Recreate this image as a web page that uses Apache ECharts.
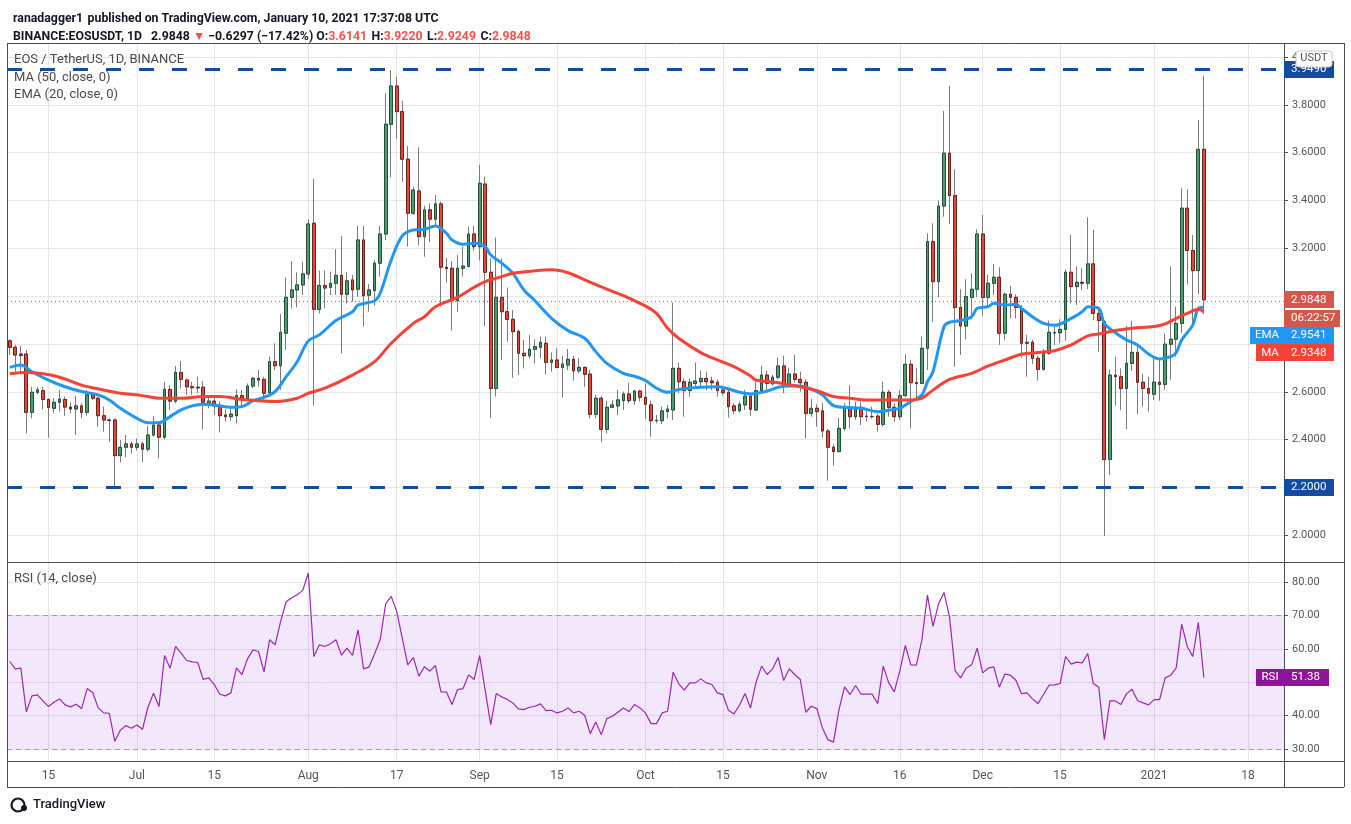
<!DOCTYPE html>
<html><head><meta charset="utf-8">
<script src="https://cdn.jsdelivr.net/npm/echarts@6/dist/echarts.min.js"></script>
<style>html,body{margin:0;padding:0;background:#fff;overflow:hidden}#main{width:1351px;height:824px}</style>
</head><body><div id="main"></div>
<script>
// ---------- data ----------
const startDate = [2020, 5, 8];   // 2020-06-08 (first daily candle)
const totalDays = 231;            // category slots (data + blank right margin)
const opens = [
2.813,2.786,2.758,2.758,2.514,2.598,2.605,2.568,2.531,2.556,
2.568,2.536,2.528,2.541,2.514,2.587,2.573,2.500,2.482,2.482,
2.333,2.368,2.382,2.368,2.382,2.360,2.419,2.461,2.410,2.610,
2.561,2.681,2.649,2.621,2.619,2.619,2.552,2.561,2.541,2.503,
2.496,2.500,2.584,2.573,2.624,2.656,2.652,2.596,2.726,2.709,
2.845,2.995,3.026,3.047,3.093,3.305,2.945,3.045,3.037,3.054,
3.087,3.008,3.068,3.029,3.235,3.004,3.023,3.138,3.260,3.719,
3.879,3.772,3.573,3.347,3.440,3.249,3.361,3.322,3.386,3.121,
3.117,2.981,3.117,3.124,3.260,3.207,3.469,3.100,2.614,2.995,
2.935,2.903,2.852,2.761,2.751,2.778,2.786,2.803,2.723,2.733,
2.702,2.712,2.736,2.688,2.702,2.674,2.506,2.573,2.443,2.535,
2.541,2.563,2.591,2.563,2.603,2.577,2.545,2.479,2.479,2.517,
2.524,2.698,2.642,2.605,2.635,2.642,2.656,2.645,2.640,2.607,
2.598,2.541,2.521,2.545,2.582,2.524,2.605,2.670,2.633,2.661,
2.708,2.633,2.674,2.652,2.640,2.510,2.531,2.520,2.436,2.368,
2.350,2.447,2.535,2.496,2.535,2.498,2.496,2.498,2.464,2.598,
2.535,2.496,2.584,2.715,2.638,2.635,2.782,3.228,3.061,3.377,
3.598,3.421,2.953,2.875,2.995,3.029,3.260,2.995,3.054,3.079,
2.845,3.008,2.995,2.949,2.803,2.807,2.740,2.694,2.761,2.847,
2.847,2.861,3.100,3.040,3.058,3.054,3.135,2.928,2.893,2.317,
2.670,2.663,2.614,2.719,2.765,2.640,2.614,2.590,2.640,2.631,
2.799,2.820,2.886,3.368,3.191,3.107,3.6141];
const highs = [
2.820,2.796,2.792,2.775,2.621,2.620,2.620,2.572,2.573,2.608,
2.580,2.556,2.583,2.552,2.608,2.598,2.580,2.538,2.489,2.489,
2.398,2.419,2.391,2.405,2.391,2.457,2.499,2.475,2.642,2.628,
2.708,2.729,2.656,2.642,2.663,2.645,2.580,2.573,2.559,2.527,
2.531,2.610,2.608,2.635,2.663,2.691,2.663,2.747,2.803,2.926,
3.079,3.147,3.100,3.144,3.322,3.490,3.107,3.107,3.103,3.197,
3.252,3.100,3.089,3.294,3.294,3.051,3.151,3.294,3.849,3.946,
3.918,3.817,3.628,3.458,3.623,3.378,3.388,3.423,3.396,3.161,
3.147,3.172,3.207,3.291,3.294,3.549,3.500,3.158,3.245,3.158,
3.036,2.942,2.861,2.817,2.838,2.820,2.831,2.831,2.765,2.782,
2.750,2.779,2.750,2.740,2.705,2.691,2.587,2.582,2.563,2.566,
2.608,2.601,2.638,2.608,2.608,2.635,2.563,2.503,2.538,2.545,
2.973,2.722,2.656,2.656,2.722,2.688,2.684,2.663,2.652,2.621,
2.615,2.552,2.559,2.608,2.589,2.649,2.708,2.688,2.670,2.744,
2.751,2.701,2.754,2.684,2.652,2.570,2.548,2.555,2.444,2.380,
2.492,2.552,2.628,2.559,2.559,2.531,2.538,2.507,2.642,2.608,
2.552,2.608,2.757,2.733,2.700,2.831,3.263,3.305,3.400,3.775,
3.879,3.531,3.029,3.071,3.096,3.280,3.340,3.089,3.135,3.121,
3.015,3.043,3.008,2.963,2.838,2.817,2.750,2.779,2.898,2.873,
2.903,3.112,3.256,3.124,3.117,3.330,3.277,2.956,2.900,2.694,
2.747,2.698,2.875,2.898,2.796,2.675,2.663,2.747,2.737,2.845,
3.124,2.956,3.451,3.447,3.256,3.737,3.9220];
const lows = [
2.754,2.684,2.684,2.426,2.489,2.590,2.527,2.408,2.510,2.517,
2.499,2.510,2.419,2.489,2.500,2.566,2.454,2.433,2.391,2.200,
2.305,2.326,2.343,2.354,2.305,2.350,2.412,2.322,2.401,2.524,
2.552,2.614,2.587,2.587,2.594,2.443,2.531,2.503,2.430,2.475,
2.479,2.468,2.538,2.570,2.615,2.621,2.566,2.587,2.691,2.608,
2.775,2.949,2.953,3.005,3.072,2.542,2.928,2.949,3.005,3.005,
2.761,2.970,2.977,2.998,2.873,2.935,2.960,3.082,3.235,3.497,
3.658,3.479,3.207,3.340,3.214,3.165,3.226,3.290,2.956,3.057,
2.856,2.935,3.082,3.124,3.190,3.149,2.875,2.492,2.580,2.733,
2.810,2.659,2.670,2.698,2.740,2.719,2.740,2.673,2.684,2.698,
2.577,2.691,2.647,2.677,2.621,2.489,2.489,2.391,2.426,2.531,
2.503,2.524,2.552,2.545,2.559,2.486,2.412,2.468,2.465,2.489,
2.482,2.594,2.496,2.580,2.624,2.615,2.605,2.608,2.580,2.584,
2.492,2.506,2.514,2.524,2.500,2.520,2.603,2.607,2.626,2.652,
2.594,2.621,2.638,2.601,2.405,2.496,2.454,2.408,2.228,2.291,
2.347,2.436,2.447,2.482,2.461,2.475,2.488,2.433,2.454,2.496,
2.475,2.482,2.580,2.447,2.573,2.632,2.691,2.893,2.995,3.332,
3.301,2.705,2.754,2.820,2.903,2.995,2.918,2.956,3.005,2.796,
2.817,2.907,2.907,2.744,2.663,2.716,2.647,2.688,2.754,2.796,
2.803,2.814,2.970,2.963,3.026,3.029,2.900,2.768,1.997,2.252,
2.542,2.524,2.444,2.687,2.506,2.538,2.517,2.566,2.563,2.608,
2.650,2.747,2.847,3.049,2.873,3.008,2.9249];
const closes = [
2.786,2.754,2.752,2.514,2.598,2.608,2.568,2.535,2.556,2.570,
2.536,2.528,2.541,2.514,2.587,2.573,2.500,2.482,2.480,2.333,
2.368,2.382,2.368,2.382,2.360,2.419,2.461,2.410,2.610,2.561,
2.681,2.652,2.621,2.617,2.616,2.556,2.561,2.541,2.500,2.496,
2.507,2.584,2.573,2.624,2.656,2.649,2.594,2.726,2.709,2.849,
2.995,3.026,3.047,3.093,3.302,2.945,3.045,3.034,3.054,3.087,
3.008,3.064,3.026,3.235,3.002,3.026,3.138,3.260,3.719,3.879,
3.772,3.573,3.347,3.444,3.249,3.361,3.322,3.386,3.121,3.115,
2.981,3.117,3.126,3.260,3.207,3.472,3.100,2.614,2.995,2.935,
2.903,2.852,2.761,2.751,2.778,2.789,2.807,2.723,2.733,2.702,
2.716,2.736,2.688,2.702,2.673,2.506,2.573,2.443,2.535,2.545,
2.566,2.591,2.563,2.603,2.577,2.548,2.479,2.481,2.520,2.528,
2.698,2.642,2.605,2.640,2.645,2.656,2.642,2.638,2.605,2.596,
2.538,2.521,2.548,2.582,2.527,2.605,2.670,2.635,2.661,2.708,
2.633,2.674,2.652,2.638,2.510,2.531,2.517,2.436,2.368,2.350,
2.447,2.535,2.496,2.535,2.496,2.496,2.497,2.464,2.598,2.535,
2.496,2.584,2.715,2.638,2.635,2.782,3.228,3.061,3.377,3.598,
3.421,2.953,2.875,2.998,3.029,3.260,2.995,3.054,3.079,2.845,
3.008,2.995,2.953,2.803,2.807,2.740,2.694,2.761,2.849,2.846,
2.861,3.100,3.040,3.058,3.054,3.135,2.928,2.898,2.317,2.670,
2.663,2.614,2.719,2.765,2.640,2.614,2.594,2.640,2.631,2.799,
2.820,2.886,3.368,3.191,3.107,3.6141,2.9848];
const rsiValues = [
56.2,54.0,54.2,41.1,45.9,46.2,44.4,42.7,44.0,45.0,
43.2,42.6,43.4,42.1,48.1,46.9,42.3,40.8,40.7,32.3,
35.6,37.0,36.2,37.2,35.9,42.5,46.7,42.7,58.0,54.2,
60.7,58.7,56.5,56.1,55.9,50.8,51.3,49.3,46.4,45.9,
46.8,54.3,52.3,57.0,59.7,59.2,53.1,62.7,61.2,68.2,
74.1,75.3,76.2,77.5,82.7,57.7,61.2,60.7,61.5,62.7,
58.1,60.2,58.0,65.7,54.0,54.6,58.5,62.7,73.5,75.7,
71.2,63.2,55.2,57.4,51.8,54.6,53.3,55.0,47.1,47.0,
43.3,47.8,48.1,52.2,50.8,58.0,47.6,37.3,46.6,45.6,
44.8,43.8,42.0,41.8,42.5,42.8,43.5,41.5,41.6,40.8,
41.3,42.3,40.8,41.3,40.1,34.6,38.1,34.3,39.1,39.8,
41.0,42.3,41.2,43.3,42.3,40.8,37.6,37.6,40.8,41.3,
53.0,49.6,47.6,49.8,49.8,51.0,49.8,49.3,46.8,46.3,
41.6,40.5,43.1,46.6,42.3,50.0,54.8,52.3,54.0,57.4,
50.5,54.0,52.3,50.8,41.0,42.8,42.1,36.3,32.8,32.0,
41.8,48.6,46.3,49.0,46.4,46.4,46.4,43.6,54.8,49.8,
47.1,53.3,61.0,55.2,55.1,62.7,76.1,66.7,73.4,76.9,
69.5,53.5,51.3,54.2,55.2,60.2,52.8,54.2,54.6,48.5,
52.4,52.1,50.6,46.6,46.8,45.0,43.6,46.3,49.1,49.2,
49.6,57.7,55.4,56.0,55.8,58.6,49.6,48.5,32.8,44.4,
44.4,43.3,46.5,47.9,44.5,43.8,43.2,44.8,44.8,51.3,
52.1,54.3,67.4,60.7,57.7,67.9,51.38];
const emaPoints = [
['2020-06-08',2.702],['2020-06-10',2.712],['2020-06-12',2.684],['2020-06-15',2.649],['2020-06-18',2.621],
['2020-06-21',2.601],['2020-06-24',2.587],['2020-06-26',2.566],['2020-06-28',2.531],['2020-07-01',2.489],
['2020-07-03',2.471],['2020-07-05',2.471],['2020-07-07',2.496],['2020-07-09',2.524],['2020-07-11',2.541],
['2020-07-13',2.548],['2020-07-15',2.545],['2020-07-18',2.535],['2020-07-20',2.538],['2020-07-22',2.563],
['2020-07-24',2.577],['2020-07-26',2.601],['2020-07-28',2.663],['2020-07-30',2.726],['2020-08-01',2.813],
['2020-08-03',2.838],['2020-08-06',2.898],['2020-08-09',2.935],['2020-08-10',2.963],['2020-08-13',2.981],
['2020-08-14',3.012],['2020-08-16',3.151],['2020-08-18',3.252],['2020-08-20',3.277],['2020-08-22',3.280],
['2020-08-24',3.294],['2020-08-26',3.263],['2020-08-27',3.235],['2020-08-29',3.217],['2020-08-31',3.221],
['2020-09-02',3.207],['2020-09-03',3.172],['2020-09-05',3.138],['2020-09-07',3.096],['2020-09-09',3.026],
['2020-09-11',2.981],['2020-09-14',2.907],['2020-09-17',2.856],['2020-09-20',2.824],['2020-09-22',2.768],
['2020-09-24',2.719],['2020-09-27',2.677],['2020-09-29',2.665],['2020-10-01',2.647],['2020-10-03',2.615],
['2020-10-05',2.598],['2020-10-07',2.610],['2020-10-11',2.619],['2020-10-14',2.621],['2020-10-18',2.598],
['2020-10-20',2.591],['2020-10-23',2.603],['2020-10-25',2.619],['2020-10-27',2.624],['2020-10-29',2.624],
['2020-10-31',2.610],['2020-11-02',2.587],['2020-11-04',2.542],['2020-11-06',2.535],['2020-11-09',2.531],
['2020-11-12',2.517],['2020-11-15',2.527],['2020-11-16',2.531],['2020-11-18',2.559],['2020-11-20',2.587],
['2020-11-21',2.642],['2020-11-22',2.684],['2020-11-24',2.873],['2020-11-25',2.891],['2020-11-27',2.898],
['2020-11-29',2.914],['2020-11-30',2.949],['2020-12-02',2.956],['2020-12-03',2.970],['2020-12-05',2.963],
['2020-12-07',2.966],['2020-12-08',2.949],['2020-12-10',2.914],['2020-12-12',2.886],['2020-12-14',2.878],
['2020-12-17',2.907],['2020-12-19',2.935],['2020-12-20',2.956],['2020-12-22',2.949],['2020-12-23',2.886],
['2020-12-25',2.847],['2020-12-27',2.817],['2020-12-29',2.796],['2020-12-31',2.758],['2021-01-02',2.737],
['2021-01-04',2.747],['2021-01-05',2.764],['2021-01-06',2.817],['2021-01-08',2.879],['2021-01-09',2.949],
['2021-01-10',2.9541]];
const maPoints = [
['2020-06-08',2.675],['2020-06-11',2.681],['2020-06-14',2.675],['2020-06-17',2.661],['2020-06-21',2.628],
['2020-06-25',2.607],['2020-06-28',2.594],['2020-07-02',2.584],['2020-07-05',2.573],['2020-07-09',2.573],
['2020-07-13',2.580],['2020-07-16',2.580],['2020-07-20',2.568],['2020-07-26',2.559],['2020-07-30',2.573],
['2020-08-01',2.594],['2020-08-04',2.615],['2020-08-09',2.670],['2020-08-13',2.726],['2020-08-16',2.803],
['2020-08-20',2.886],['2020-08-22',2.914],['2020-08-24',2.956],['2020-08-28',2.995],['2020-08-31',3.037],
['2020-09-02',3.061],['2020-09-05',3.082],['2020-09-07',3.096],['2020-09-11',3.106],['2020-09-14',3.110],
['2020-09-17',3.098],['2020-09-20',3.068],['2020-09-24',3.029],['2020-09-27',3.002],['2020-09-30',2.970],
['2020-10-01',2.959],['2020-10-03',2.928],['2020-10-05',2.866],['2020-10-07',2.824],['2020-10-11',2.764],
['2020-10-14',2.733],['2020-10-17',2.705],['2020-10-20',2.666],['2020-10-21',2.649],['2020-10-25',2.638],
['2020-10-29',2.621],['2020-11-01',2.605],['2020-11-04',2.580],['2020-11-07',2.573],['2020-11-10',2.566],
['2020-11-14',2.566],['2020-11-18',2.566],['2020-11-20',2.573],['2020-11-22',2.607],['2020-11-25',2.652],
['2020-11-29',2.677],['2020-12-02',2.708],['2020-12-05',2.733],['2020-12-08',2.757],['2020-12-11',2.764],
['2020-12-14',2.772],['2020-12-17',2.796],['2020-12-20',2.834],['2020-12-22',2.842],['2020-12-25',2.856],
['2020-12-28',2.866],['2021-01-01',2.873],['2021-01-03',2.884],['2021-01-05',2.907],['2021-01-07',2.928],
['2021-01-09',2.945],['2021-01-10',2.9348]];
const tickDates = ['2020-06-15','2020-07-01','2020-07-15','2020-08-01','2020-08-17','2020-09-01','2020-09-15',
  '2020-10-01','2020-10-15','2020-11-01','2020-11-16','2020-12-01','2020-12-15','2021-01-01','2021-01-18'];
const tickLabels = ['15','Jul','15','Aug','17','Sep','15','Oct','15','Nov','16','Dec','15','2021','18'];
const resistanceLevel = 3.949;
const supportLevel = 2.2;
const lastPrice = 2.9848;
const lastEma = 2.9541;
const lastMa = 2.9348;
const lastRsi = 51.38;
const countdownText = '06:22:57';

// ---------- build ----------
const FONT = "Roboto, 'Liberation Sans', sans-serif";
const dates = [];
const d0 = Date.UTC(startDate[0], startDate[1], startDate[2]);
for (let i = 0; i < totalDays; i++) dates.push(new Date(d0 + i * 86400000).toISOString().slice(0, 10));
const candleData = opens.map((o, i) => [o, closes[i], lows[i], highs[i]]);
const bodyData = opens.map((o, i) => [o, closes[i], Math.min(o, closes[i]), Math.max(o, closes[i])]);
const isTick = (idx, val) => tickDates.indexOf(val) >= 0;
const onStep = (v, s) => Math.abs(v / s - Math.round(v / s)) < 1e-6;

const UP = '#4c9e6e', DOWN = '#e2473b';
const HF = 12.3;
const chart = echarts.init(document.getElementById('main'));
const gridLine = {color: '#e6e6e6', width: 1};

chart.setOption({
  animation: false,
  backgroundColor: '#ffffff',
  textStyle: {fontFamily: FONT},
  title: [
    {left: 8, top: 5, text: '{b|ranadagger1} {n|published on TradingView.com, January 10, 2021 17:37:08 UTC}',
     textStyle: {rich: {b: {fontWeight: 'bold', fontSize: HF, color: '#131722', fontFamily: FONT},
                        n: {fontSize: HF, color: '#131722', fontFamily: FONT}}}},
    {left: 8, top: 23, text: '{b|BINANCE:EOSUSDT, 1D}  {n|2.9848 }{r|▼}{n| −0.6297 (−17.42%) }{b|O:}{r|3.6141} {b|H:}{r|3.9220} {b|L:}{r|2.9249} {b|C:}{r|2.9848}',
     textStyle: {rich: {b: {fontWeight: 'bold', fontSize: HF, color: '#131722', fontFamily: FONT},
                        n: {fontSize: HF, color: '#131722', fontFamily: FONT},
                        r: {fontSize: HF, color: '#ef5350', fontFamily: FONT}}}}
  ],
  grid: [
    {left: 7, right: 67, top: 43, height: 519},
    {left: 7, right: 67, top: 562, height: 199}
  ],
  xAxis: [
    {type: 'category', gridIndex: 0, data: dates, boundaryGap: true,
     axisLine: {show: false}, axisTick: {show: false}, axisLabel: {show: false},
     splitLine: {show: true, interval: isTick, alignWithLabel: true, lineStyle: gridLine}},
    {type: 'category', gridIndex: 1, data: dates, boundaryGap: true,
     axisLine: {show: false}, axisTick: {show: false},
     axisLabel: {show: true, interval: isTick, color: '#555', fontSize: 12, margin: 9,
                 formatter: v => tickLabels[tickDates.indexOf(v)] || ''},
     splitLine: {show: true, interval: isTick, alignWithLabel: true, lineStyle: gridLine}}
  ],
  yAxis: [
    {type: 'value', gridIndex: 0, position: 'right', min: 1.888, max: 4.059, splitNumber: 10,
     axisLine: {show: false}, axisTick: {show: true, length: 4, lineStyle: {color: '#555'}},
     axisLabel: {color: '#555', fontSize: 11, margin: 8, showMinLabel: false, showMaxLabel: false,
                 formatter: v => onStep(v, 0.2) ? v.toFixed(4) : ''},
     splitLine: {lineStyle: gridLine}},
    {type: 'value', gridIndex: 1, position: 'right', min: 26.4, max: 86, splitNumber: 6,
     axisLine: {show: false}, axisTick: {show: true, length: 4, lineStyle: {color: '#555'}},
     axisLabel: {color: '#555', fontSize: 11, margin: 8, showMinLabel: false, showMaxLabel: false,
                 formatter: v => onStep(v, 10) ? v.toFixed(2) : ''},
     splitLine: {lineStyle: gridLine}}
  ],
  series: [
    {type: 'candlestick', name: 'wicks', xAxisIndex: 0, yAxisIndex: 0, data: candleData, barWidth: 3.2, z: 2,
     itemStyle: {color: UP, color0: DOWN, borderColor: '#7b7b7b', borderColor0: '#7b7b7b', borderWidth: 1},
     markLine: {silent: true, symbol: ['none', 'none'], label: {show: false}, animation: false,
       data: [
         {yAxis: resistanceLevel, lineStyle: {color: '#134ba1', width: 3, type: [15, 18]}},
         {yAxis: supportLevel, lineStyle: {color: '#134ba1', width: 3, type: [15, 18]}},
         {yAxis: lastPrice, lineStyle: {color: '#e0574b', width: 1, type: [1, 3]}}
       ]}},
    {type: 'candlestick', name: 'bodies', xAxisIndex: 0, yAxisIndex: 0, data: bodyData, barWidth: 3.2, z: 3,
     itemStyle: {color: UP, color0: DOWN, borderColor: '#24503a', borderColor0: '#6a231d', borderWidth: 1}},
    {type: 'line', name: 'EMA', xAxisIndex: 0, yAxisIndex: 0, data: emaPoints, smooth: 0.35, symbol: 'none', z: 4,
     lineStyle: {color: '#2196f3', width: 3}},
    {type: 'line', name: 'MA', xAxisIndex: 0, yAxisIndex: 0, data: maPoints, smooth: 0.35, symbol: 'none', z: 5,
     lineStyle: {color: '#f44336', width: 3}},
    {type: 'line', name: 'RSI', xAxisIndex: 1, yAxisIndex: 1, data: rsiValues, symbol: 'none', z: 4,
     lineStyle: {color: '#9c27b0', width: 1.2},
     markArea: {silent: true, itemStyle: {color: 'rgba(155,60,230,0.12)'}, data: [[{yAxis: 30}, {yAxis: 70}]]},
     markLine: {silent: true, symbol: ['none', 'none'], label: {show: false},
       lineStyle: {color: '#a0a0a0', width: 1, type: [5, 4]}, data: [{yAxis: 70}, {yAxis: 30}]}}
  ]
});

// ---------- overlay: frame, legends, axis tags ----------
const py = v => chart.convertToPixel({yAxisIndex: 0}, v);
const ry = v => chart.convertToPixel({yAxisIndex: 1}, v);
const ZL = 1;  // overlay layer above axis labels
function box(x, yc, w, h, fill, text, opts) {
  opts = opts || {};
  return {type: 'group', zlevel: ZL, z: 100, children: [
    {type: 'rect', zlevel: ZL, z: 100, shape: {x: x, y: Math.round(yc - h / 2), width: w, height: h, r: opts.r || 0},
     style: {fill: fill, stroke: opts.stroke || null, lineWidth: 1}},
    {type: 'text', zlevel: ZL, z: 101, x: opts.center ? x + w / 2 : x + (opts.pad || 7), y: yc,
     style: {text: text, fill: opts.color || '#fff', font: (opts.weight || 'normal') + ' ' + (opts.size || 11.5) + 'px ' + FONT,
             align: opts.center ? 'center' : 'left', verticalAlign: 'middle'}}
  ]};
}
function label(x, y, text, size, color, weight) {
  return {type: 'text', x: x, y: y, z: 100,
    style: {text: text, fill: color || '#555', font: (weight || 'normal') + ' ' + (size || 13) + 'px ' + FONT, verticalAlign: 'middle'}};
}
function hline(x1, x2, y) { return {type: 'line', z: 90, shape: {x1: x1, y1: y, x2: x2, y2: y}, style: {stroke: '#4d4d4d', lineWidth: 1}}; }
function vline(x, y1, y2) { return {type: 'line', z: 90, shape: {x1: x, y1: y1, x2: x, y2: y2}, style: {stroke: '#4d4d4d', lineWidth: 1}}; }

const yPrice = py(lastPrice);
const AX = 1284;
chart.setOption({graphic: [
  hline(7, 1344, 43.5), hline(7, 1344, 562.5), hline(7, 1344, 761.5), hline(7, 1344, 787.5),
  vline(7.5, 43, 787), vline(1344.5, 43, 787), vline(AX + 0.5, 43, 787),
  label(14, 60, 'EOS / TetherUS, 1D, BINANCE', 13, '#4a4a4a'),
  label(14, 78, 'MA (50, close, 0)', 13, '#4a4a4a'),
  label(14, 95, 'EMA (20, close, 0)', 13, '#4a4a4a'),
  label(14, 579, 'RSI (14, close)', 13, '#4a4a4a'),
  box(AX, py(resistanceLevel), 50, 17, '#134ba1', resistanceLevel.toFixed(4)),
  box(AX, py(supportLevel), 50, 17, '#134ba1', supportLevel.toFixed(4)),
  box(1296, 58.5, 36, 16, '#ffffff', 'USDT', {stroke: '#c8c8c8', color: '#555', r: 3, center: true, size: 11}),
  box(AX, yPrice, 50, 17, '#d4574b', lastPrice.toFixed(4)),
  box(AX, yPrice + 18.5, 56, 17, '#d4574b', countdownText),
  box(1250, yPrice + 35.5, 34, 17, '#2196f3', 'EMA', {center: true}),
  box(AX, yPrice + 35.5, 50, 17, '#2196f3', lastEma.toFixed(4)),
  box(1256, yPrice + 53, 28, 17, '#f44336', 'MA', {center: true}),
  box(AX, yPrice + 53, 50, 17, '#f44336', lastMa.toFixed(4)),
  box(1256, ry(lastRsi), 28, 17, '#8e1599', 'RSI', {center: true}),
  box(AX, ry(lastRsi), 45, 17, '#8e1599', lastRsi.toFixed(2)),
  {type: 'circle', z: 100, shape: {cx: 18, cy: 805, r: 6.5}, style: {fill: 'none', stroke: '#131722', lineWidth: 2.2}},
  {type: 'circle', z: 100, shape: {cx: 24, cy: 808, r: 3}, style: {fill: '#131722'}},
  label(33, 805, 'TradingView', 13, '#131722', '500')
]});
</script></body></html>
